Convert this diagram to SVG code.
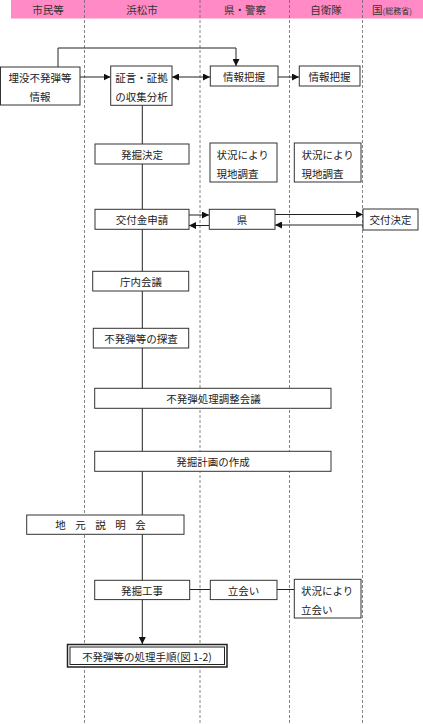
<svg xmlns="http://www.w3.org/2000/svg" width="423" height="724" viewBox="0 0 423 724">
<style>
text{font-family:"Noto Sans CJK JP","Noto Sans",sans-serif;font-size:10.5px;fill:#222;}
.c{text-anchor:middle;dominant-baseline:central;}
.l{dominant-baseline:central;}
.box{fill:#fff;stroke:#333;stroke-width:1;}
.ln{fill:none;stroke:#222;stroke-width:1;}
.div{stroke:#666;stroke-width:0.8;stroke-dasharray:3,2;}
.hd{font-size:10.5px;fill:#333;}
</style>
<defs>
<marker id="ah" viewBox="0 0 8 8" refX="8" refY="4" markerWidth="7" markerHeight="7" markerUnits="userSpaceOnUse" orient="auto-start-reverse">
<path d="M0,0 L8,4 L0,8 z" fill="#111"/>
</marker>
</defs>
<rect width="423" height="724" fill="#fff"/>
<g id="header">
<rect x="11" y="0" width="412" height="18.5" fill="#ff8ac6"/>
<text class="c hd" x="48" y="9.5">市民等</text>
<text class="c hd" x="142" y="9.5">浜松市</text>
<text class="c hd" x="245" y="9.5">県・警察</text>
<text class="c hd" x="326" y="9.5">自衛隊</text>
<text class="c hd" x="392" y="9.5">国<tspan font-size="8">(総務省)</tspan></text>
</g>
<g id="lanes">
<line class="div" x1="84.5" y1="0" x2="84.5" y2="724"/>
<line class="div" x1="200" y1="0" x2="200" y2="724"/>
<line class="div" x1="289.5" y1="0" x2="289.5" y2="724"/>
<line class="div" x1="362.5" y1="0" x2="362.5" y2="724"/>
</g>
<g id="connectors">
<path class="ln" d="M142.3,105 V644" marker-end="url(#ah)"/>
<path class="ln" d="M58,67 V48 H236 V66" marker-end="url(#ah)"/>
<path class="ln" d="M80,77 H110.5" marker-end="url(#ah)"/>
<path class="ln" d="M172,77 H210" marker-start="url(#ah)" marker-end="url(#ah)"/>
<path class="ln" d="M278,77 H299" marker-end="url(#ah)"/>
<path class="ln" d="M189,215 H209" marker-end="url(#ah)"/>
<path class="ln" d="M209,225.5 H189" marker-end="url(#ah)"/>
<path class="ln" d="M275,214.5 H363" marker-end="url(#ah)" stroke-width="1.2"/>
<path class="ln" d="M363,225 H275" marker-end="url(#ah)"/>
<path class="ln" d="M190,589.5 H210" stroke="#555"/>
<path class="ln" d="M277,589.5 H294"/>
</g>
<g id="n-maibotsu">
<rect class="box" x="0.5" y="67" width="79.5" height="38"/>
<text class="c" x="40" y="77.5">埋没不発弾等</text>
<text class="c" x="40" y="96">情報</text>
</g>
<g id="n-shogen">
<rect class="box" x="110.7" y="66" width="61.3" height="39.3"/>
<text class="c" x="141.5" y="77.5">証言・証拠</text>
<text class="c" x="141.5" y="96">の収集分析</text>
</g>
<g id="n-haaku1">
<rect class="box" x="210.3" y="66" width="67.7" height="20"/>
<text class="c" x="244" y="76.5">情報把握</text>
</g>
<g id="n-haaku2">
<rect class="box" x="299.3" y="66" width="60.7" height="20"/>
<text class="c" x="329.5" y="76.5">情報把握</text>
</g>
<g id="n-kettei">
<rect class="box" x="95" y="144" width="94" height="20"/>
<text class="c" x="142" y="154.5">発掘決定</text>
</g>
<g id="n-chosa1">
<rect class="box" x="210" y="143" width="67" height="39"/>
<text class="l" x="216.5" y="154.5">状況により</text>
<text class="l" x="216.5" y="173">現地調査</text>
</g>
<g id="n-chosa2">
<rect class="box" x="294.3" y="143" width="66.7" height="39"/>
<text class="l" x="301.5" y="154.5">状況により</text>
<text class="l" x="301.5" y="173">現地調査</text>
</g>
<g id="n-shinsei">
<rect class="box" x="95" y="209.3" width="94" height="20"/>
<text class="c" x="142" y="219.5">交付金申請</text>
</g>
<g id="n-ken">
<rect class="box" x="209.3" y="209.3" width="65.7" height="20"/>
<text class="c" x="242" y="219.5">県</text>
</g>
<g id="n-kofukettei">
<rect class="box" x="363" y="209" width="55" height="21"/>
<text class="c" x="390.5" y="219.5">交付決定</text>
</g>
<g id="n-chonai">
<rect class="box" x="92.7" y="271.3" width="96" height="19.7"/>
<text class="c" x="141" y="281.5">庁内会議</text>
</g>
<g id="n-tansa">
<rect class="box" x="93.3" y="328.3" width="95.4" height="19.7"/>
<text class="c" x="141" y="338.5">不発弾等の探査</text>
</g>
<g id="n-chosei">
<rect class="box" x="94.7" y="388.3" width="236.3" height="20"/>
<text class="c" x="213.5" y="398.5">不発弾処理調整会議</text>
</g>
<g id="n-keikaku">
<rect class="box" x="94.7" y="451.3" width="236.3" height="20"/>
<text class="c" x="213" y="461.5">発掘計画の作成</text>
</g>
<g id="n-setsumei">
<rect class="box" x="26.7" y="515" width="157.3" height="19.3"/>
<text class="c" x="105.3" y="524.8" letter-spacing="9.5">地元説明会</text>
</g>
<g id="n-koji">
<rect class="box" x="94.7" y="580.3" width="95" height="19.3"/>
<text class="c" x="142" y="590">発掘工事</text>
</g>
<g id="n-tachiai">
<rect class="box" x="210.3" y="580.3" width="66.7" height="19.3"/>
<text class="c" x="243.5" y="590">立会い</text>
</g>
<g id="n-tachiai2">
<rect class="box" x="294.3" y="579.3" width="66.7" height="38.7"/>
<text class="l" x="301" y="590">状況により</text>
<text class="l" x="301" y="609">立会い</text>
</g>
<g id="n-tejun">
<rect x="67.5" y="644.5" width="159.5" height="22.5" fill="#fff" stroke="#222" stroke-width="1.5"/>
<rect x="70" y="647" width="154.5" height="17.5" fill="none" stroke="#222" stroke-width="1"/>
<text class="c" x="147" y="656">不発弾等の処理手順(図 1-2)</text>
</g>
</svg>
